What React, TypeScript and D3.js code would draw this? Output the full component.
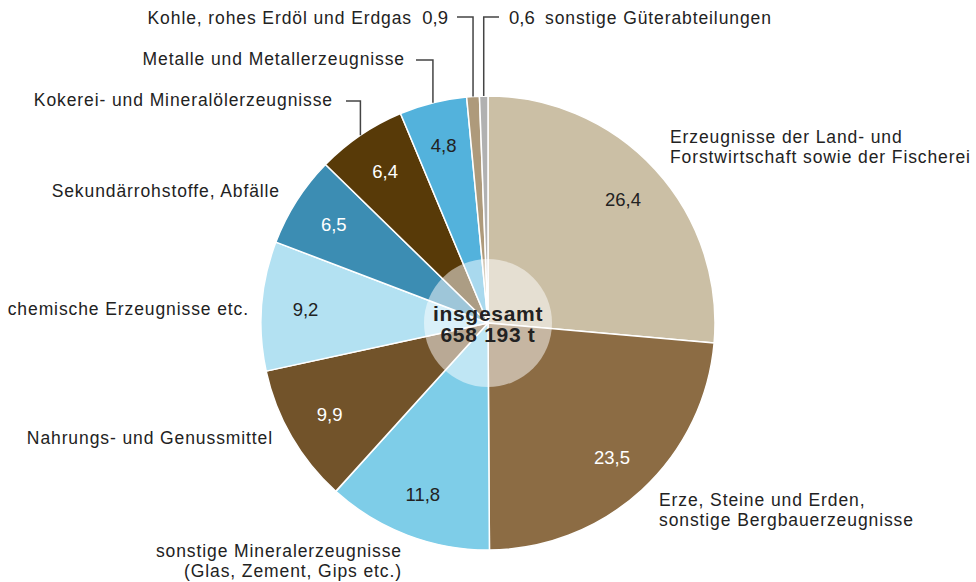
import { useRef, useEffect } from 'react';
import * as d3 from 'd3';

// Güterabteilungen, Anteile in %
const CATEGORIES: string[][] = [
  ['Erzeugnisse der Land- und', 'Forstwirtschaft sowie der Fischerei'],
  ['Erze, Steine und Erden,', 'sonstige Bergbauerzeugnisse'],
  ['sonstige Mineralerzeugnisse', '(Glas, Zement, Gips etc.)'],
  ['Nahrungs- und Genussmittel'],
  ['chemische Erzeugnisse etc.'],
  ['Sekundärrohstoffe, Abfälle'],
  ['Kokerei- und Mineralölerzeugnisse'],
  ['Metalle und Metallerzeugnisse'],
  ['Kohle, rohes Erdöl und Erdgas'],
  ['sonstige Güterabteilungen'],
];
const VALUES = [26.4, 23.5, 11.8, 9.9, 9.2, 6.5, 6.4, 4.8, 0.9, 0.6];
const COLORS = ['#cbbfa5', '#8c6c44', '#7ecde8', '#72532a', '#b3e1f2', '#3c8db3', '#583a08', '#53b2dc', '#ae9a7b', '#b1b1b1'];
const TOTAL_LINES = ['insgesamt', '658 193 t'];

// label layout (not data)
type Layout = { x: number; y: number; anchor: string; valueX?: number; elbowY?: number; endX?: number; inside?: boolean; light?: boolean };
const LAYOUT: Layout[] = [
  { x: 670, y: 143, anchor: 'start', inside: true },
  { x: 659, y: 506, anchor: 'start', inside: true, light: true },
  { x: 402, y: 557, anchor: 'end', inside: true },
  { x: 273, y: 444, anchor: 'end', inside: true, light: true },
  { x: 249, y: 315, anchor: 'end', inside: true },
  { x: 280, y: 197, anchor: 'end', inside: true, light: true },
  { x: 333, y: 106, anchor: 'end', inside: true, light: true, elbowY: 101, endX: 346 },
  { x: 405, y: 65, anchor: 'end', inside: true, elbowY: 60, endX: 416 },
  { x: 412, y: 24, anchor: 'end', valueX: 448, elbowY: 17, endX: 457 },
  { x: 545, y: 24, anchor: 'start', valueX: 509, elbowY: 17, endX: 499 },
];

const fmt = (v: number) => v.toFixed(1).replace('.', ',');

export default function App() {
  const ref = useRef<SVGSVGElement>(null);

  useEffect(() => {
    const svg = ref.current;
    if (!svg) return;
    const W = 976, H = 582;
    const cx = 488, cy = 323, R = 227, innerR = 64, labelR = 183;
    const font = '"Liberation Sans", Arial, sans-serif';
    const ink = '#222222';

    d3.select(svg).selectAll('*').remove();
    const root = d3.select(svg).attr('width', W).attr('height', H).attr('viewBox', `0 0 ${W} ${H}`);
    const g = root.append('g').attr('transform', `translate(${cx},${cy})`);

    const pie = d3.pie<number>().sort(null).startAngle(0).endAngle(2 * Math.PI);
    const arcs = pie(VALUES);
    const arc = d3.arc<d3.PieArcDatum<number>>().innerRadius(0).outerRadius(R);
    const labelArc = d3.arc<d3.PieArcDatum<number>>().innerRadius(labelR).outerRadius(labelR);

    g.selectAll('path.slice').data(arcs).enter().append('path')
      .attr('class', 'slice')
      .attr('d', arc)
      .attr('fill', (_, i) => COLORS[i])
      .attr('stroke', '#ffffff').attr('stroke-width', 1.5).attr('stroke-linejoin', 'round');

    // translucent centre disc
    g.append('circle').attr('r', innerR).attr('fill', '#ffffff').attr('opacity', 0.5);

    // values inside slices
    arcs.forEach((d, i) => {
      const l = LAYOUT[i];
      if (!l.inside) return;
      const [x, y] = labelArc.centroid(d);
      g.append('text')
        .attr('x', x).attr('y', y).attr('dy', '0.36em')
        .attr('text-anchor', 'middle')
        .attr('font-family', font).attr('font-size', 18.5)
        .attr('fill', l.light ? '#ffffff' : ink)
        .text(fmt(VALUES[i]));
    });

    // leader lines
    arcs.forEach((d, i) => {
      const l = LAYOUT[i];
      if (l.elbowY === undefined || l.endX === undefined) return;
      const a = (d.startAngle + d.endAngle) / 2;
      const px = cx + R * Math.sin(a);
      const py = cy - R * Math.cos(a);
      root.append('path')
        .attr('d', d3.line()([[px, py], [px, l.elbowY], [l.endX, l.elbowY]]))
        .attr('fill', 'none').attr('stroke', '#444444').attr('stroke-width', 1.5);
    });

    // outer category labels
    CATEGORIES.forEach((lines, i) => {
      const l = LAYOUT[i];
      const t = root.append('text')
        .attr('text-anchor', l.anchor)
        .attr('font-family', font).attr('font-size', 17.5)
        .attr('letter-spacing', 0.9)
        .attr('fill', ink);
      lines.forEach((line, j) => {
        t.append('tspan').attr('x', l.x).attr('y', l.y + j * 20).text(line);
      });
      if (l.valueX !== undefined) {
        root.append('text')
          .attr('x', l.valueX).attr('y', l.y)
          .attr('text-anchor', l.anchor === 'end' ? 'end' : 'start')
          .attr('font-family', font).attr('font-size', 18.5)
          .attr('fill', ink)
          .text(fmt(VALUES[i]));
      }
    });

    // total in the centre
    TOTAL_LINES.forEach((line, j) => {
      g.append('text')
        .attr('x', 0).attr('y', -2 + j * 21)
        .attr('text-anchor', 'middle')
        .attr('font-family', font).attr('font-size', 21).attr('font-weight', 'bold')
        .attr('letter-spacing', 0.7)
        .attr('fill', ink)
        .text(line);
    });
  }, []);

  return (
    <div style={{ position: 'fixed', left: 0, top: 0, width: 976, height: 582, background: '#ffffff' }}>
      <svg ref={ref} style={{ display: 'block' }} />
    </div>
  );
}
